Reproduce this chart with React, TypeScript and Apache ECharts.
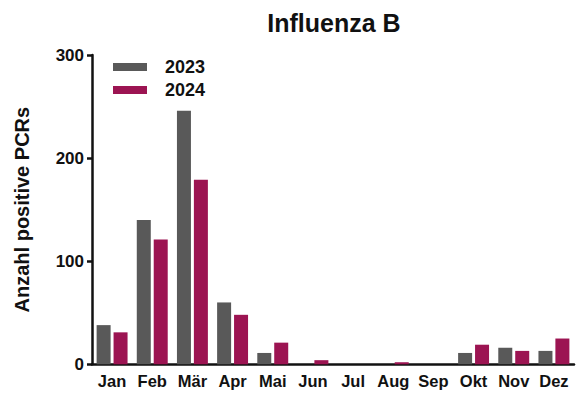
import React, { useEffect, useRef } from "react";
import * as echarts from "echarts";

const months = ["Jan", "Feb", "Mär", "Apr", "Mai", "Jun", "Jul", "Aug", "Sep", "Okt", "Nov", "Dez"];
const series2023 = [38, 140, 246, 60, 11, 0, 0, 0, 0, 11, 16, 13];
const series2024 = [31, 121, 179, 48, 21, 4, 0, 2, 0, 19, 13, 25];
const yTicks = [0, 100, 200, 300];

const FONT = "'Liberation Sans', Arial, Helvetica, sans-serif";
const GRAY = "#595959";
const MAGENTA = "#9c1452";
const INK = "#111111";

export default function App() {
  const ref = useRef<HTMLDivElement>(null);
  useEffect(() => {
    document.body.style.margin = "0";
    const chart = echarts.init(ref.current!, null, { renderer: "svg" });
    chart.setOption({
      animation: false,
      backgroundColor: "#ffffff",
      title: {
        text: "Influenza B",
        left: 334,
        top: 10,
        padding: 0,
        textAlign: "center",
        textStyle: { fontFamily: FONT, fontSize: 25, fontWeight: "bold", color: INK },
      },
      legend: {
        left: 113,
        top: 58,
        padding: 0,
        orient: "vertical",
        icon: "rect",
        itemWidth: 34,
        itemHeight: 8,
        itemGap: 5,
        textStyle: {
          fontFamily: FONT,
          fontSize: 18,
          fontWeight: "bold",
          color: INK,
          lineHeight: 18,
          padding: [0, 0, 0, 13],
        },
        data: ["2023", "2024"],
      },
      grid: { left: 92, right: 5, top: 55, bottom: 35.7 },
      xAxis: {
        type: "category",
        data: months,
        axisLine: { lineStyle: { color: INK, width: 2.5 } },
        axisTick: { alignWithLabel: true, length: 7, lineStyle: { color: INK, width: 2.5 } },
        axisLabel: { fontFamily: FONT, fontSize: 16.5, fontWeight: "bold", color: INK, margin: 8, interval: 0 },
      },
      yAxis: {
        type: "value",
        min: yTicks[0],
        max: yTicks[yTicks.length - 1],
        interval: 100,
        name: "Anzahl positive PCRs",
        nameLocation: "middle",
        nameGap: 60,
        nameTextStyle: { fontFamily: FONT, fontSize: 20, fontWeight: "bold", color: INK },
        axisLine: { show: true, lineStyle: { color: INK, width: 2.5 } },
        axisTick: { show: true, length: 5, lineStyle: { color: INK, width: 2.5 } },
        axisLabel: { fontFamily: FONT, fontSize: 17, fontWeight: "bold", color: INK, margin: 8 },
        splitLine: { show: false },
      },
      series: [
        {
          name: "2023",
          type: "bar",
          data: series2023,
          barWidth: 14,
          barGap: "21%",
          itemStyle: { color: GRAY },
        },
        {
          name: "2024",
          type: "bar",
          data: series2024,
          barWidth: 14,
          barGap: "21%",
          itemStyle: { color: MAGENTA },
        },
      ],
    });
    return () => chart.dispose();
  }, []);
  return <div ref={ref} style={{ width: 579, height: 400 }} />;
}
